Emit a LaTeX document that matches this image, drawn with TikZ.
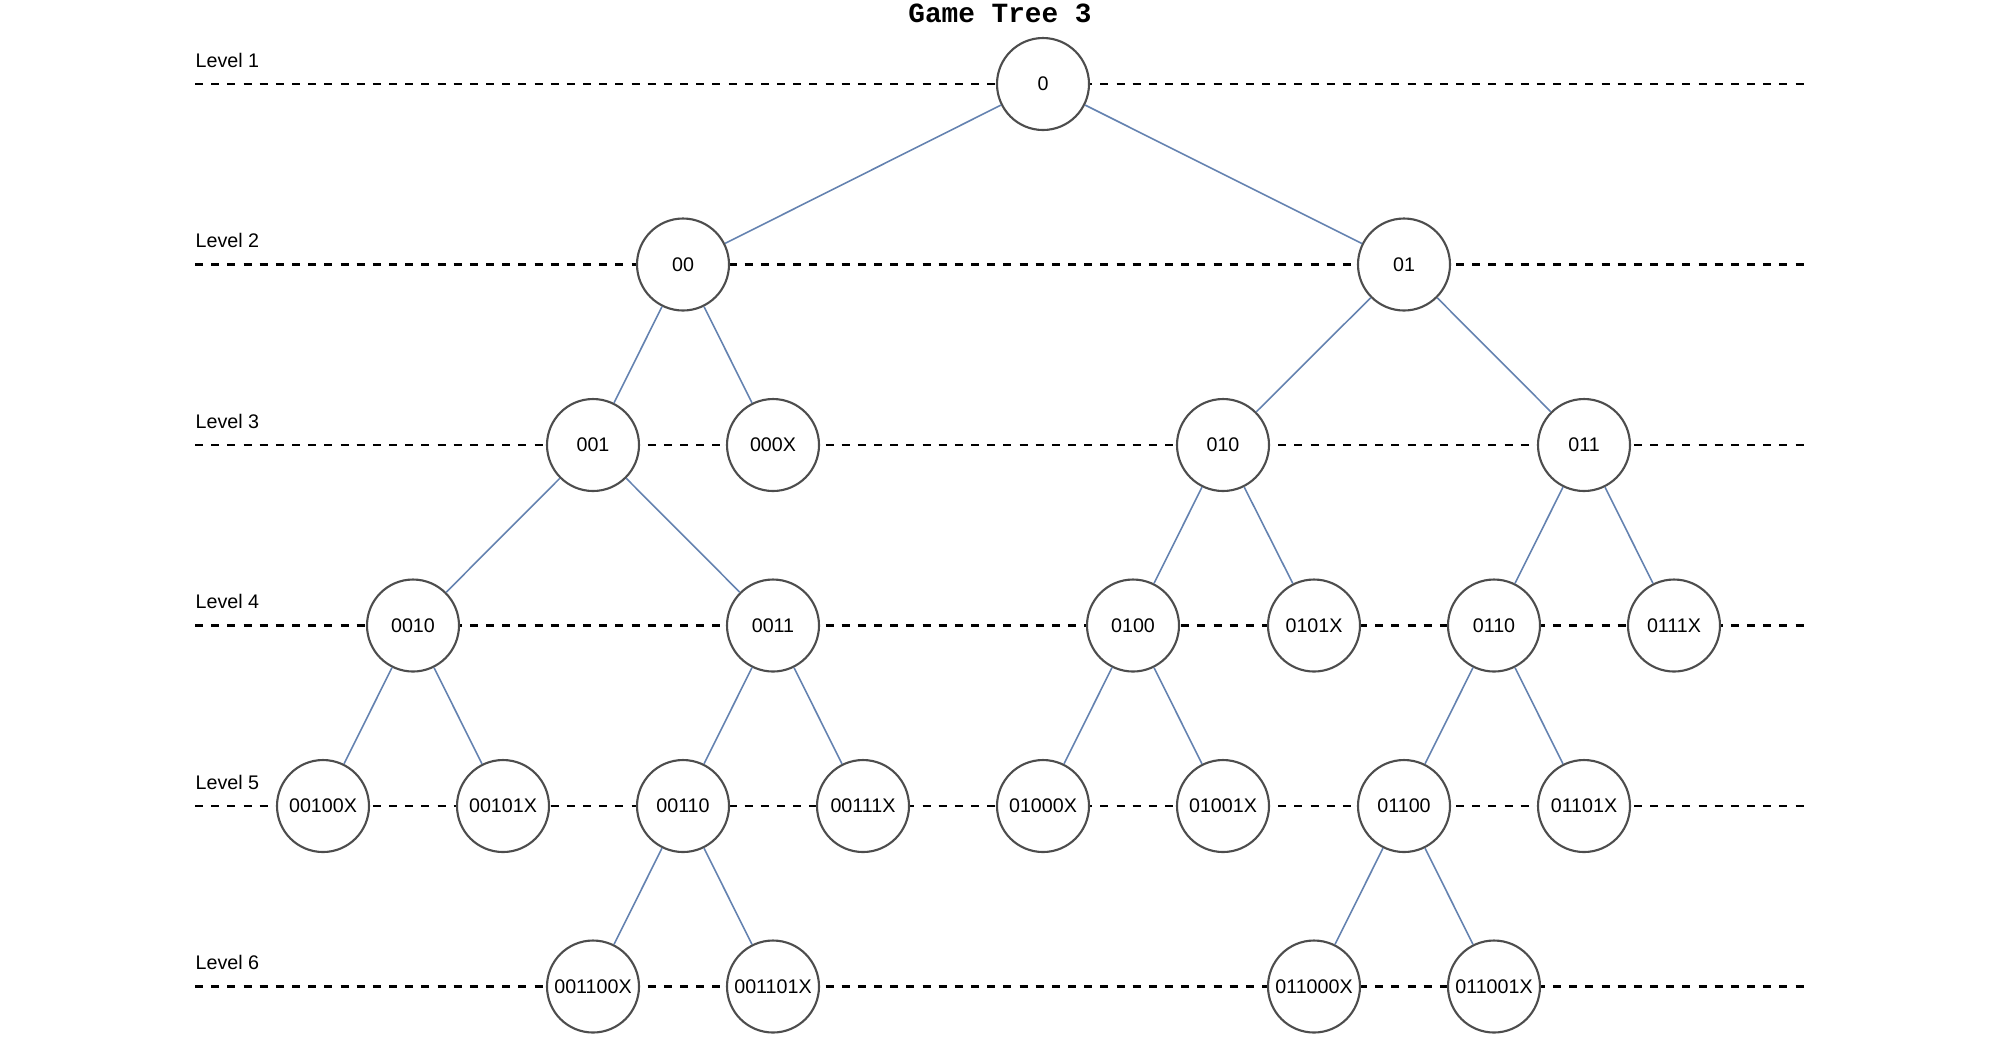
\documentclass[tikz,border=0pt]{standalone}
\usepackage{fontspec}
\setmainfont{Liberation Sans}
\newfontfamily\titlefont{Liberation Mono}
\usetikzlibrary{positioning}

\definecolor{edgeblue}{HTML}{6482B0}
\definecolor{ringgray}{HTML}{4D4D4D}

\tikzset{
    gnode/.style={circle, draw=ringgray, line width=0.6pt, fill=white, minimum size=0.92cm, inner sep=0pt, font=\fontsize{5.6}{6.7}\selectfont},
    levelline/.style={line width=0.68pt, dash pattern=on 2.3pt off 2.3pt},
    branch/.style={draw=edgeblue, line width=0.45pt},
    levellabel/.style={anchor=base west, inner sep=0pt, font=\fontsize{5.6}{6.7}\selectfont}
}

\begin{document}
\begin{tikzpicture}
    \useasboundingbox (0, 0) rectangle (20, -10.38);

    % Title
    \node[font=\titlefont\bfseries\fontsize{7.9}{9.5}\selectfont] (title) at (10.0, -0.13) {Game Tree 3};

    % Levels
    \foreach \i in {1,...,6} {
        \coordinate (L\i w) at (1.95, {-0.84 - (\i - 1) * 1.805});
        \coordinate (L\i e) at (18.04, {-0.84 - (\i - 1) * 1.805});
        \node[levellabel] (lab\i) at (1.95, {-0.67 - (\i - 1) * 1.805}) {Level \i};
        \draw[levelline] (L\i w) -- (L\i e);
    }

    % Level 1
    \node[gnode] (n0) at (10.43, -0.84) {0};

    % Level 2
    \node[gnode] (n00) at (6.83, -2.645) {00};
    \node[gnode] (n01) at (14.04, -2.645) {01};

    % Level 3
    \node[gnode] (n001) at (5.93, -4.45) {001};
    \node[gnode] (n000X) at (7.73, -4.45) {000X};
    \node[gnode] (n010) at (12.23, -4.45) {010};
    \node[gnode] (n011) at (15.84, -4.45) {011};

    % Level 4
    \node[gnode] (n0010) at (4.13, -6.255) {0010};
    \node[gnode] (n0011) at (7.73, -6.255) {0011};
    \node[gnode] (n0100) at (11.33, -6.255) {0100};
    \node[gnode] (n0101X) at (13.14, -6.255) {0101X};
    \node[gnode] (n0110) at (14.94, -6.255) {0110};
    \node[gnode] (n0111X) at (16.74, -6.255) {0111X};

    % Level 5
    \node[gnode] (n00100X) at (3.23, -8.06) {00100X};
    \node[gnode] (n00101X) at (5.03, -8.06) {00101X};
    \node[gnode] (n00110) at (6.83, -8.06) {00110};
    \node[gnode] (n00111X) at (8.63, -8.06) {00111X};
    \node[gnode] (n01000X) at (10.43, -8.06) {01000X};
    \node[gnode] (n01001X) at (12.23, -8.06) {01001X};
    \node[gnode] (n01100) at (14.04, -8.06) {01100};
    \node[gnode] (n01101X) at (15.84, -8.06) {01101X};

    % Level 6
    \node[gnode] (n001100X) at (5.93, -9.865) {001100X};
    \node[gnode] (n001101X) at (7.73, -9.865) {001101X};
    \node[gnode] (n011000X) at (13.14, -9.865) {011000X};
    \node[gnode] (n011001X) at (14.94, -9.865) {011001X};

    % Branches
    \draw[branch] (n0) -- (n00);
    \draw[branch] (n0) -- (n01);
    \draw[branch] (n00) -- (n001);
    \draw[branch] (n00) -- (n000X);
    \draw[branch] (n01) -- (n010);
    \draw[branch] (n01) -- (n011);
    \draw[branch] (n001) -- (n0010);
    \draw[branch] (n001) -- (n0011);
    \draw[branch] (n010) -- (n0100);
    \draw[branch] (n010) -- (n0101X);
    \draw[branch] (n011) -- (n0110);
    \draw[branch] (n011) -- (n0111X);
    \draw[branch] (n0010) -- (n00100X);
    \draw[branch] (n0010) -- (n00101X);
    \draw[branch] (n0011) -- (n00110);
    \draw[branch] (n0011) -- (n00111X);
    \draw[branch] (n0100) -- (n01000X);
    \draw[branch] (n0100) -- (n01001X);
    \draw[branch] (n0110) -- (n01100);
    \draw[branch] (n0110) -- (n01101X);
    \draw[branch] (n00110) -- (n001100X);
    \draw[branch] (n00110) -- (n001101X);
    \draw[branch] (n01100) -- (n011000X);
    \draw[branch] (n01100) -- (n011001X);
\end{tikzpicture}
\end{document}
